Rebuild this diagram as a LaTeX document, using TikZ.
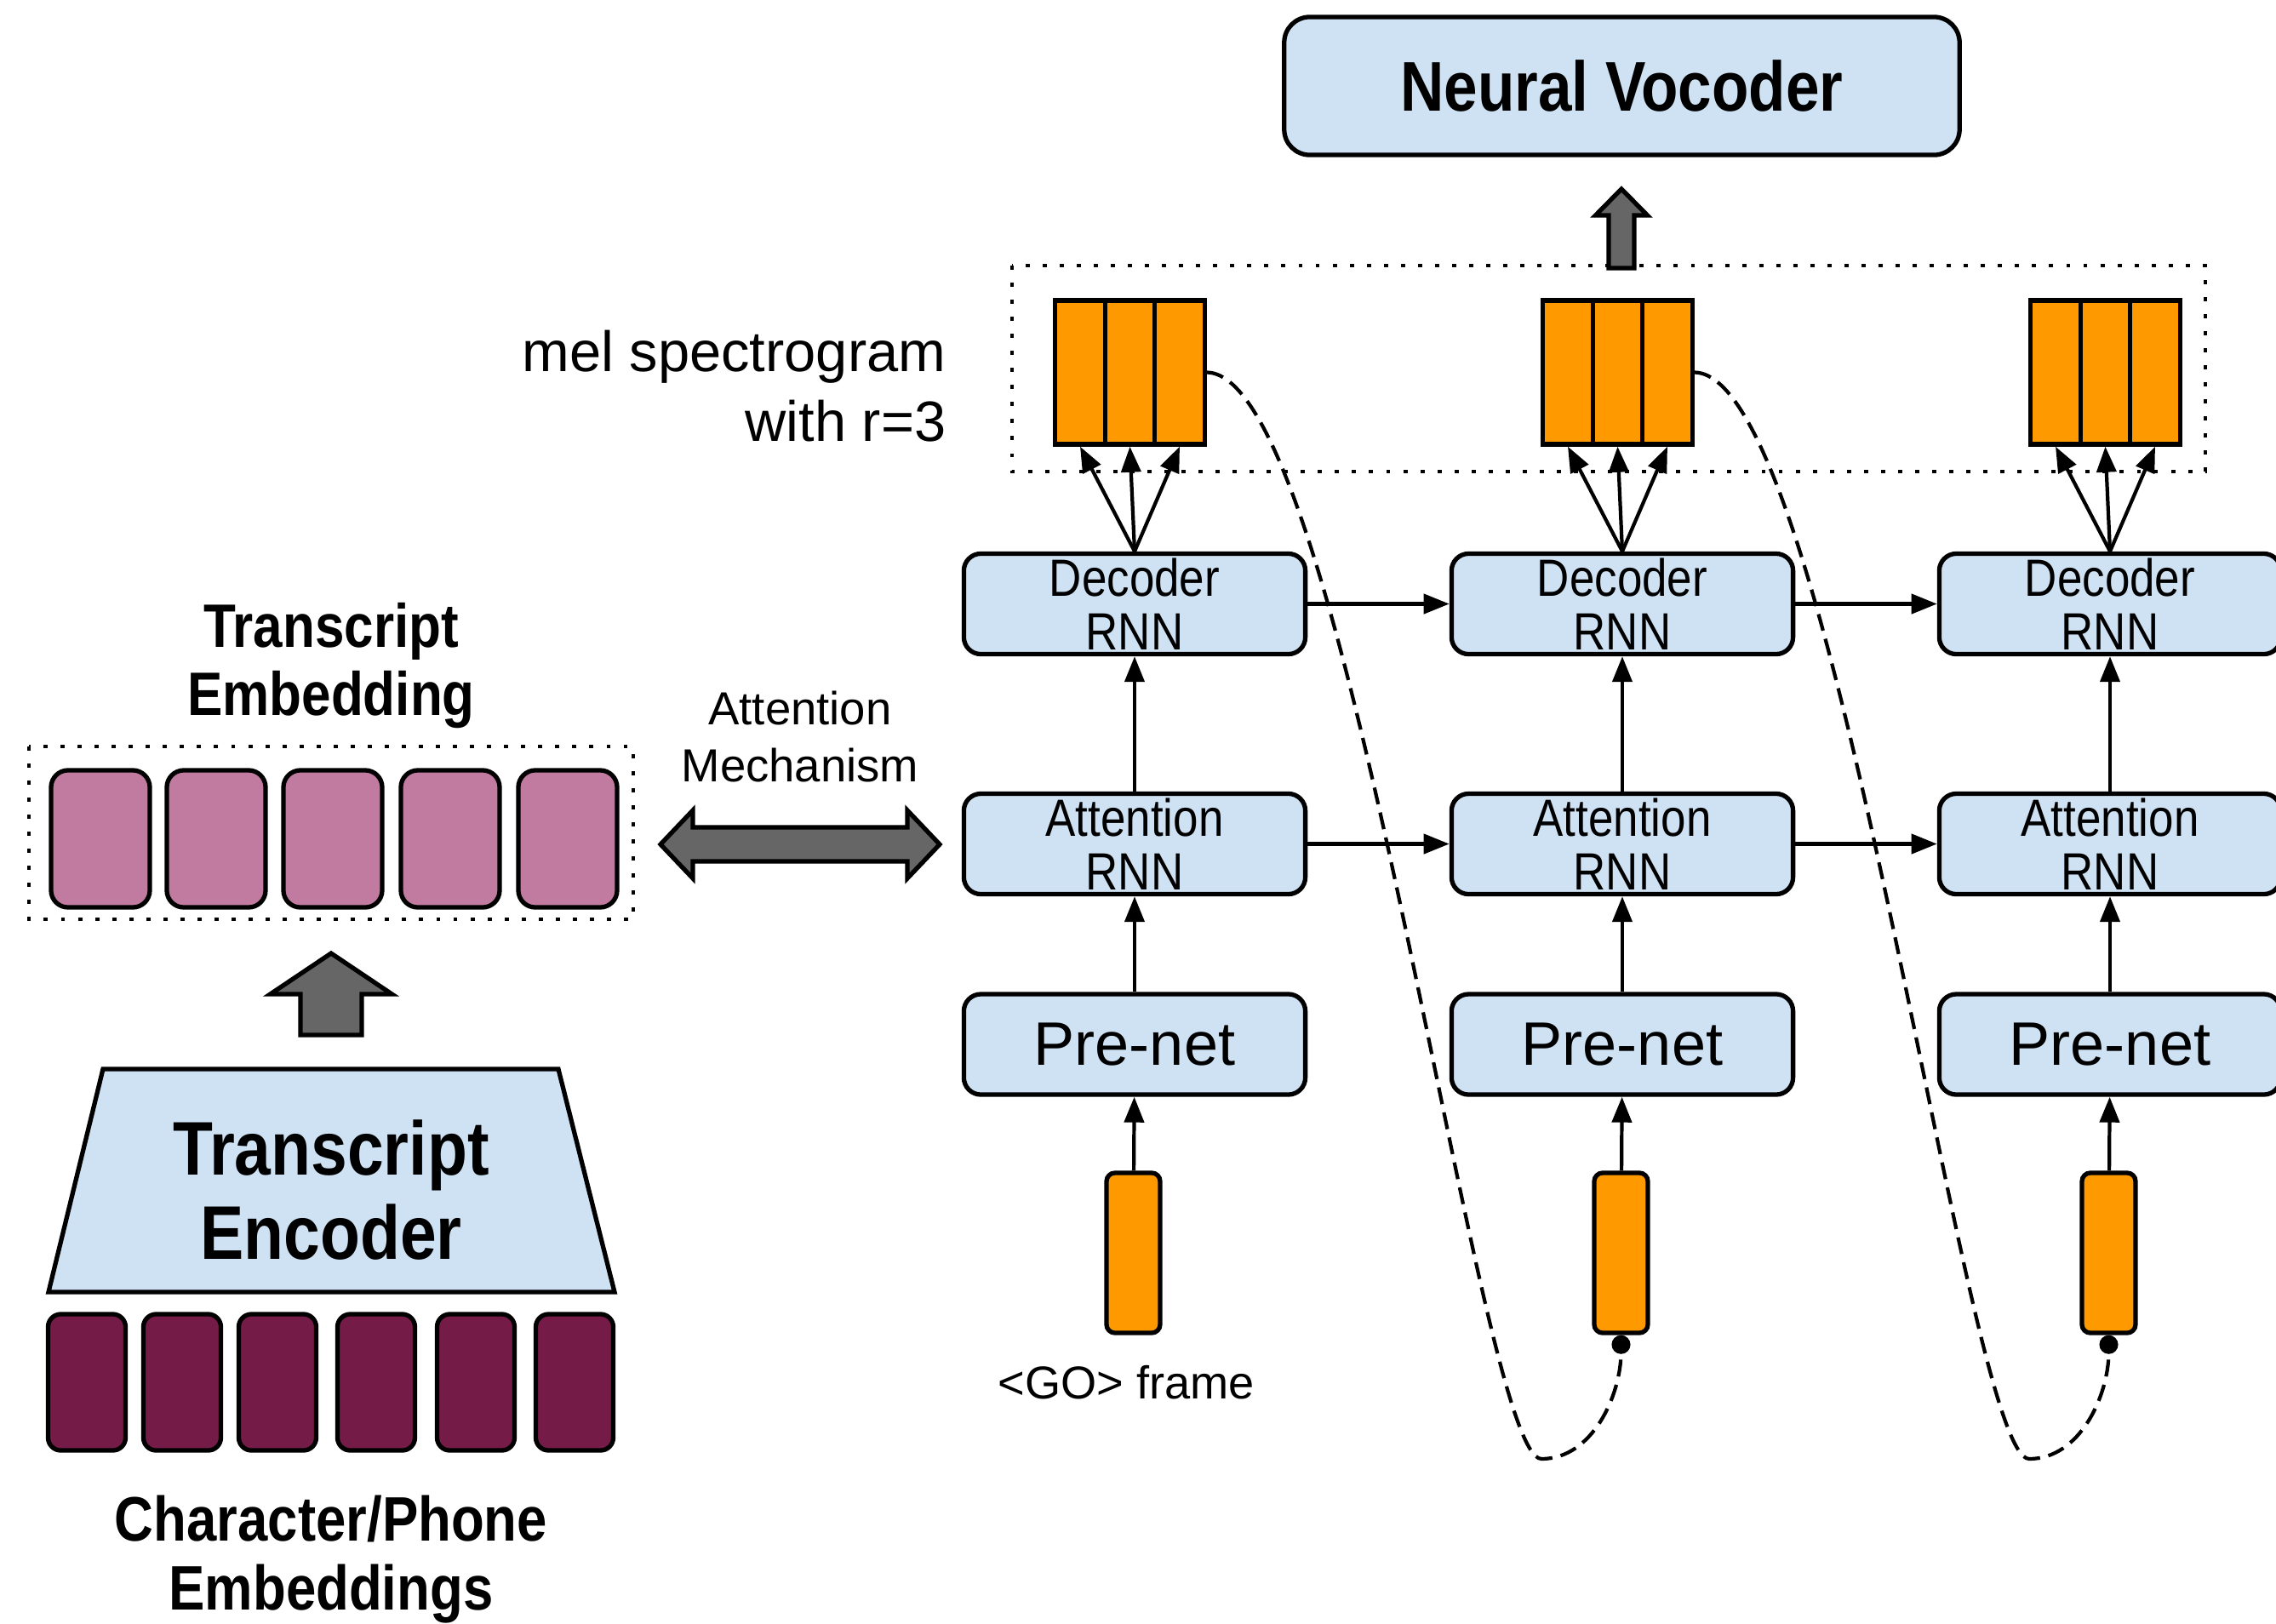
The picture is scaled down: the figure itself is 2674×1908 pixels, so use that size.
\documentclass[tikz,border=0pt]{standalone}
\usepackage{fontspec}
\setmainfont{Liberation Sans}
\newfontfamily\narrowfont[FakeStretch=0.86]{Liberation Sans}
\usetikzlibrary{arrows.meta}

\definecolor{boxblue}{HTML}{CFE2F3}
\definecolor{melorange}{HTML}{FF9900}
\definecolor{embpink}{HTML}{C27BA0}
\definecolor{charplum}{HTML}{741B47}
\definecolor{arrowgray}{HTML}{666666}

\tikzset{
  blk/.style={draw, line width=1.5pt, fill=boxblue, rounded corners=0.2cm,
    minimum width=4.01cm, minimum height=1.18cm, inner sep=0pt, align=center},
  rnn/.style={blk, font=\narrowfont\fontsize{17.5}{18}\selectfont},
  prenet/.style={blk, font=\fontsize{20.5}{24}\selectfont},
  melframe/.style={draw, line width=1.5pt, fill=melorange,
    minimum width=0.585cm, minimum height=1.69cm, inner sep=0pt},
  goframe/.style={draw, line width=1.5pt, fill=melorange, rounded corners=0.1cm,
    minimum width=0.63cm, minimum height=1.88cm, inner sep=0pt},
  embbox/.style={draw, line width=1.5pt, fill=embpink, rounded corners=0.2cm,
    minimum width=1.16cm, minimum height=1.61cm, inner sep=0pt},
  chrbox/.style={draw, line width=1.5pt, fill=charplum, rounded corners=0.15cm,
    minimum width=0.91cm, minimum height=1.6cm, inner sep=0pt},
  arr/.style={-{Triangle[length=0.3cm,width=0.23cm]}, line width=1.2pt},
  fb/.style={line width=1.2pt, dash pattern=on 0.2cm off 0.1cm, -{Circle[length=0.22cm]}},
  dotbox/.style={line width=1.4pt, dash pattern=on 1.4pt off 4.3pt},
  blockarrow/.style={fill=arrowgray, draw, line width=1.5pt},
  boldtitle/.style={align=center, font=\narrowfont\bfseries\fontsize{#1}{1.1\dimexpr#1pt\relax}\selectfont}
}

\begin{document}
\begin{tikzpicture}[x=0.01cm, y=-0.01cm]
  \useasboundingbox (0,0) rectangle (2674,1908);

  % vocoder and output frames
  \node[blk, minimum width=7.93cm, minimum height=1.62cm, rounded corners=0.3cm,
    font=\narrowfont\bfseries\fontsize{23.5}{28}\selectfont] (voc) at (1905.5,101) {Neural Vocoder};
  \draw[dotbox] (1189,312) rectangle (2591,554);
  \filldraw[blockarrow] (1905,222) -- (1935.5,253) -- (1920,253) -- (1920,315)
    -- (1890,315) -- (1890,253) -- (1874.5,253) -- cycle;

  \node[font=\fontsize{19}{23.3}\selectfont, align=right, anchor=east, inner sep=0pt] (mellabel)
    at (1112,454) {mel spectrogram\\with r=3};

  % decoder columns
  \foreach \c/\x in {1/1333,2/1906,3/2479} {
    \node[melframe] (mel\c-1) at ({\x-64},437.5) {};
    \node[melframe] (mel\c-2) at ({\x-5.5},437.5) {};
    \node[melframe] (mel\c-3) at ({\x+53},437.5) {};
    \node[rnn] (dec\c) at (\x,709.5) {Decoder\\RNN};
    \node[rnn] (att\c) at (\x,991.5) {Attention\\RNN};
    \node[prenet] (pre\c) at (\x,1227) {Pre-net};
    \node[goframe] (go\c) at ({\x-1.5},1472) {};
    \coordinate (low\c) at ({\x+478},1714);

    \draw[arr] (dec\c.north) -- (mel\c-1.south);
    \draw[arr] (dec\c.north) -- (mel\c-2.south);
    \draw[arr] (dec\c.north) -- (mel\c-3.south);
    \draw[arr] (att\c) -- (dec\c);
    \draw[arr] (pre\c) -- (att\c);
    \draw[arr] (go\c) -- (pre\c);
  }
  \node[font=\fontsize{15.4}{18}\selectfont] (golabel) at (1323,1624) {<GO> frame};

  \foreach \c/\n in {1/2,2/3} {
    \draw[arr] (dec\c) -- (dec\n);
    \draw[arr] (att\c) -- (att\n);
    \draw[fb] (mel\c-3.east) .. controls +(165,2) and +(-75,0) .. (low\c)
      .. controls +(60,0) and +(0,70) .. (go\n.south);
  }

  % attention link
  \node[font=\fontsize{15.5}{19}\selectfont, align=center] (attmech) at (940,865.5) {Attention\\Mechanism};
  \filldraw[blockarrow] (776,992) -- (814,952) -- (814,972) -- (1066,972) -- (1066,952)
    -- (1104,992) -- (1066,1032) -- (1066,1012) -- (814,1012) -- (814,1032) -- cycle;

  % encoder side
  \node[boldtitle=20.5] (embtitle) at (389,782) {Transcript\\Embedding};
  \draw[dotbox] (34,877) rectangle (744,1080);
  \foreach \i/\x in {1/118,2/254,3/391,4/529,5/667}
    \node[embbox] (te\i) at (\x,985.5) {};

  \filldraw[blockarrow] (389,1120) -- (460.5,1168) -- (425,1168) -- (425,1216)
    -- (353,1216) -- (353,1168) -- (317.5,1168) -- cycle;

  \filldraw[fill=boxblue, line width=1.5pt] (121,1256) -- (656,1256) -- (722,1518) -- (57,1518) -- cycle;
  \node[boldtitle=25.4] (enc) at (389,1398) {Transcript\\Encoder};

  \foreach \i/\x in {1/102,2/214,3/326,4/442,5/559,6/675}
    \node[chrbox] (ce\i) at (\x,1624) {};
  \node[boldtitle=21] (chrtitle) at (389,1832) {Character/Phone\\Embeddings};
\end{tikzpicture}
\end{document}
